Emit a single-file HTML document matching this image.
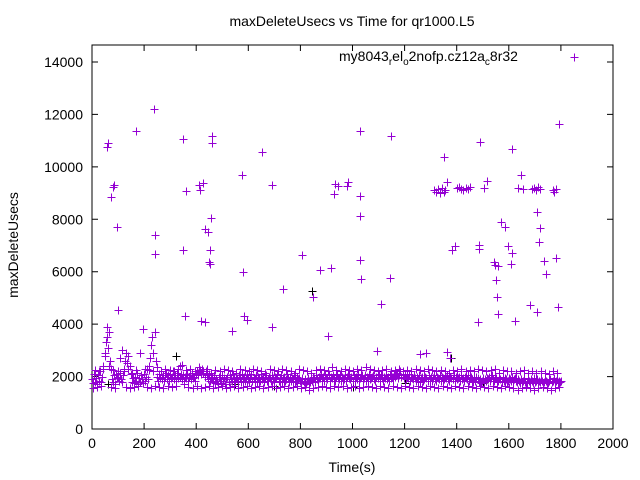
<!DOCTYPE html>
<html><head><meta charset="utf-8"><style>
html,body{margin:0;padding:0;background:#fff;}
svg{display:block;font-family:"Liberation Sans",sans-serif;}
</style></head><body>
<svg id="chart" width="640" height="480" viewBox="0 0 640 480">
<rect width="640" height="480" fill="#fff"/>
<text x="352" y="26" font-size="14" text-anchor="middle">maxDeleteUsecs vs Time for qr1000.L5</text>
<g id="axes"></g>
<g id="marks" shape-rendering="crispEdges"></g>
<text x="339" y="61" font-size="14">my8043<tspan dy="4" font-size="10">r</tspan><tspan dy="-4">el</tspan><tspan dy="4" font-size="10">o</tspan><tspan dy="-4">2nofp.cz12a</tspan><tspan dy="4" font-size="10">c</tspan><tspan dy="-4">8r32</tspan></text>
<text x="352" y="472" font-size="14" text-anchor="middle">Time(s)</text>
<text transform="translate(18,245) rotate(-90)" font-size="14" text-anchor="middle">maxDeleteUsecs</text>
</svg>
<script>
const xTicks=[0,200,400,600,800,1000,1200,1400,1600,1800,2000];
const yTicks=[0,2000,4000,6000,8000,10000,12000,14000];
const bandStep=4;
const bandValues=[
1900,1750,2100,1800,1950,1700,2050,1850,2200,1800,
2000,2400,2900,3300,3500,3100,3700,2600,2300,1900,
1800,2050,1700,2100,1950,2000,1850,2150,1900,1800,
2050,2300,2600,2900,2500,2800,2400,2100,1800,1950,
1750,2000,1850,2150,1700,1950,1800,2050,1900,1750,
2100,1850,2000,2300,1900,2400,2700,3200,3500,2900,
3700,2600,2000,1850,2100,1950,2200,1900,2050,1850,
2000,2150,1900,2050,1850,2100,1950,2000,2200,1900,
2050,1850,2150,1950,2000,2100,1900,2050,1850,2000,
1950,2100,1850,2000,2050,1900,2150,1950,2000,1850,
2100,2200,2050,2350,2250,2100,2300,2150,2000,2200,
2050,1900,2100,1850,2000,1950,1800,2050,1750,1900,
1850,1700,2000,1900,1750,2050,1850,1950,1700,1900,
2000,1800,2050,1900,1850,2100,1950,1800,2000,1900,
1850,2050,1950,1800,2100,1900,2000,1850,1950,2050,
1900,1800,2000,2100,1850,1950,1900,2050,1800,2000,
1950,1850,2100,1900,2000,1800,1950,2050,1850,1900,
2000,1950,1850,2050,1900,1800,2000,1950,2100,1850,
1900,2050,1800,1950,2000,1850,1900,2100,1950,1800,
2000,1850,1950,1900,2050,1800,1850,2000,1900,1950,
1850,1750,1950,1800,1900,1700,1850,1950,1750,1800,
1900,1850,2000,1950,1800,2050,1900,1850,2000,1950,
2100,1900,2000,1850,2050,1950,1900,2100,1850,2000,
1950,2050,1900,1850,2000,2100,1950,1900,2050,1850,
2000,1950,1900,2050,1850,2000,2100,1950,1900,2000,
1850,2050,1950,2000,1900,2100,1850,1950,2000,2050,
1900,1950,2050,1850,2000,1950,2100,1900,1950,2000,
2050,1900,1850,2000,1950,2100,1900,2050,1950,1850,
2000,1950,2050,1900,2000,1850,2100,1950,2000,1900,
2050,2000,2100,2150,1950,2050,2200,2000,2100,1950,
2050,1900,2000,1950,2100,1850,2000,1950,1900,2050,
1950,1850,2000,1900,2050,1800,1950,2000,1850,1900,
2000,1950,1850,2050,1900,2000,1850,1950,2050,1900,
1850,2000,1950,1900,2050,1850,2000,1950,1900,2000,
1950,2050,1900,1850,2000,1950,1900,2050,1850,2000,
1900,1950,2000,1850,2050,1900,1950,1850,2000,1950,
1900,2050,1850,1950,2000,1900,1800,1950,1850,2000,
1950,1800,1900,1750,1850,1950,1800,1900,1850,1950,
1900,2000,1850,1950,2050,1900,1850,2000,1950,1800,
1850,1950,1900,1800,2000,1850,1950,1900,1800,1850,
1950,1900,1850,2000,1800,1900,1950,1850,1800,1900,
1850,1750,1900,1800,1850,1950,1800,1750,1900,1850,
1800,1900,1850,1750,1950,1800,1850,1900,1750,1850,
1800,1900,1850,1750,1800,1900,1850,1800,1750,1850,
1900,1800,1850,1950,1800,1850,1900,1750,1850,1800,
1850
];
const bandStep3=8;
const bandValues3=[
1550,2250,1600,2200,1650,2300,2800,3900,2400,1600,
2250,1550,2200,2700,3000,2200,1600,2300,1550,2150,
1600,2250,1650,2900,3800,2300,1600,2250,1550,2200,
1650,2350,1600,2200,1550,2300,1650,2250,1600,2200,
1650,2300,2400,2450,1700,2250,1600,2300,1550,2200,
1650,2250,1550,2200,1600,2300,1650,2150,1550,2250,
1600,2200,1650,2300,1550,2250,1600,2200,1650,2150,
1550,2300,1600,2250,1650,2200,1550,2300,1600,2250,
1650,2200,1550,2150,1600,2300,1650,2250,1550,2200,
1600,2300,1650,2250,1550,2200,1600,2150,1650,2300,
1550,2250,1600,2200,1500,2150,1550,2250,1600,2300,
1650,2250,1600,2200,1550,2350,1650,2250,1600,2200,
1650,2300,1550,2250,1600,2200,1650,2300,1550,2250,
1600,2350,1650,2300,1600,2250,1550,2200,1650,2250,
1600,2300,1550,2200,1650,2250,1600,2300,1550,2200,
1650,2250,1600,2200,1550,2300,1650,2250,1600,2200,
1550,2300,1650,2250,1600,2200,1550,2250,1650,2200,
1600,2150,1550,2250,1650,2200,1600,2300,1550,2200,
1650,2250,1600,2200,1550,2300,1650,2250,1600,2200,
1550,2250,1650,2300,1600,2150,1550,2250,1650,2200,
1600,2200,1550,2150,1500,2200,1550,2250,1600,2150,
1550,2200,1500,2150,1550,2200,1600,2150,1550,2100,
1500,2200,1550,2150,1600
];
const outT=[58,61,73,81,84,96,100,169,238,242,242,349,361,349,357,411,426,415,418,434,434,445,449,453,457,453,461,461,537,576,580,584,595,653,691,691,733,806,848,875,918,906,933,944,929,979,983,1029,1029,1029,1029,1033,1094,1109,1144,1148,1259,1282,1363,1374,1313,1320,1328,1335,1342,1351,1355,1351,1363,1382,1393,1400,1410,1418,1425,1435,1445,1451,1489,1482,1486,1486,1516,1505,1543,1547,1551,1555,1559,1559,1570,1585,1597,1608,1612,1624,1612,1635,1647,1654,1689,1697,1705,1712,1720,1708,1720,1716,1735,1743,1681,1708,1770,1775,1781,1781,1789,1793];
const outV=[10760,10910,8850,9230,9310,7710,4540,11370,12210,7400,6680,11060,9080,6830,4310,9310,9380,9120,4120,4080,7630,7520,6370,6290,8050,6830,11180,10910,3740,9690,5990,4310,4160,10570,9310,3890,5340,6640,5040,6070,6140,3550,9350,9270,8970,9270,9420,11370,8890,8130,6450,5720,2980,4770,5760,11180,2860,2900,2940,2710,9100,9050,9150,9000,9200,10380,9100,9050,9420,6830,6980,9200,9250,9150,9100,9200,9150,9250,10950,4080,7020,6870,9460,9190,6370,6260,5680,5040,4390,6220,7900,7710,6980,6290,6710,4120,10680,9190,9690,9160,9150,9200,9100,9250,9150,8280,7670,7130,6410,5910,4730,4460,9100,9050,9150,6520,4650,11640];
const blkT=[322,845,918,1033,1094,1259,1363,1378,1608,1735,1743,1789,550,700,1000,1200,60,240,1500];
const blkV=[2780,5260,6140,5720,2980,2860,2940,2710,6290,6410,5910,4650,1700,1650,1600,1750,1700,1650,1750];

const L=92,R=613,T=45,B=429;
const xs=t=>L+t/2000*(R-L);
const ys=v=>B-v/14000*(429-62);
const NS="http://www.w3.org/2000/svg";
const axes=document.getElementById('axes'),marks=document.getElementById('marks');
function mk(tag,attrs,parent){const e=document.createElementNS(NS,tag);for(const k in attrs)e.setAttribute(k,attrs[k]);parent.appendChild(e);return e;}
const frame=mk('rect',{x:L,y:T,width:R-L,height:B-T,fill:'none',stroke:'#000','stroke-width':1},axes);


xTicks.forEach(t=>{const x=xs(t);
 const tk=mk('path',{d:`M${x},${B}v-6M${x},${T}v6`,stroke:'#000'},axes);
 
 
 const lb=mk('text',{x:x,y:B+19,'font-size':14,'text-anchor':'middle'},axes);lb.textContent=t;
 
 
});
yTicks.forEach(v=>{const y=ys(v);
 const tk=mk('path',{d:`M${L},${y}h6M${R},${y}h-6`,stroke:'#000'},axes);
 
 
 const lb=mk('text',{x:L-9,y:y+5,'font-size':14,'text-anchor':'end'},axes);lb.textContent=v;
 
 
});
function cross(x,y,c,name){x=Math.round(x)+0.5;y=Math.round(y)+0.5;
 const p=mk('path',{d:`M${x-4},${y}h8M${x},${y-4}v8`,stroke:c,'stroke-width':1},marks);
 
 }
blkT.forEach((t,i)=>cross(xs(t),ys(blkV[i]),'#000','black-point'));
bandValues.forEach((v,i)=>cross(xs(i*bandStep),ys(v),'#9400d3','point'));
bandValues3.forEach((v,i)=>cross(xs(i*bandStep3+2),ys(v),'#9400d3','point'));
outT.forEach((t,i)=>cross(xs(t),ys(outV[i]),'#9400d3','outlier-point'));
cross(574,57,'#9400d3','legend-marker');
</script>
</body></html>
